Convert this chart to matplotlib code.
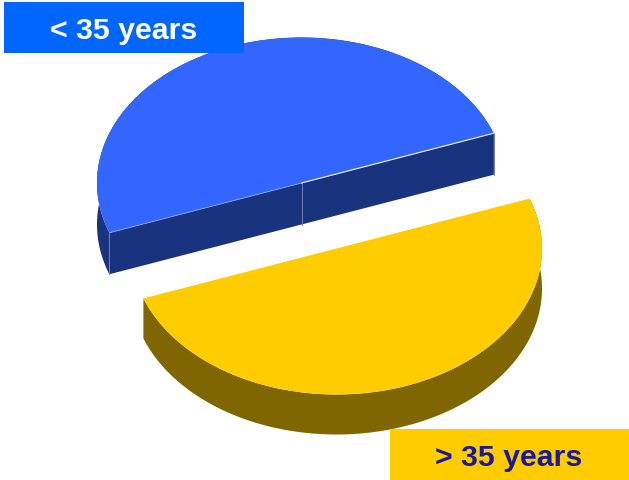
import numpy as np
import matplotlib
matplotlib.use("Agg")
import matplotlib.pyplot as plt
from matplotlib.patches import Wedge, Polygon, Rectangle
from matplotlib.transforms import Affine2D

plt.rcParams['font.family'] = ['Liberation Sans', 'DejaVu Sans']

labels = ['< 35 years', '> 35 years']
shares = [50, 50]

top_colors = ['#3366FF', '#FFCC00']
side_colors = ['#1A337F', '#806600']
box_colors = ['#0066FF', '#FFCC00']
text_colors = ['#FFFFFF', '#1A1A99']

W, H = 629, 481
fig = plt.figure(figsize=(W / 100, H / 100), dpi=100)
ax = fig.add_axes([0, 0, 1, 1])
ax.set_xlim(0, W)
ax.set_ylim(H, 0)
ax.axis('off')

centres = [(301.5, 184.0), (336.5, 249.5)]
radii = [(204.5, 145.5), (205.5, 146.0)]
depths = [41.5, 40.0]
start_angle = 20.0

theta1 = start_angle
for i, share in enumerate(shares):
    theta2 = theta1 + 360.0 * share / sum(shares)
    cx, cy = centres[i]
    rx, ry = radii[i]
    d = depths[i]
    t = np.radians(np.linspace(theta1, theta2, 240))
    ex, ey = cx + rx * np.cos(t), cy - ry * np.sin(t)

    # outer wall, extruded downward
    ax.add_patch(Polygon(np.r_[np.c_[ex, ey], np.c_[ex, ey + d][::-1]],
                         closed=True, fc=side_colors[i], ec='none', zorder=2))
    # cut face (blue slice faces the viewer)
    if i == 0:
        p1, p2 = (ex[0], ey[0]), (ex[-1], ey[-1])
        ax.add_patch(Polygon([p1, p2, (p2[0], p2[1] + d), (p1[0], p1[1] + d)],
                             closed=True, fc=side_colors[i], ec='none', zorder=3))
        for x, y in (p1, p2, (cx, cy)):
            ax.plot([x, x], [y, y + d], color='#6F84B8', lw=0.7, zorder=4)
    # top face
    ax.add_patch(Wedge((0, 0), 1, -theta2, -theta1, fc=top_colors[i], ec='none', zorder=5,
                       transform=Affine2D().scale(rx, ry).translate(cx, cy) + ax.transData))
    if i == 0:
        ax.plot([cx, ex[0]], [cy, ey[0]], color='#F2F5FF', lw=0.8, zorder=6)
        ax.plot([cx, ex[-1]], [cy, ey[-1]], color='#8FA8F0', lw=0.6, zorder=6)
    theta1 = theta2

boxes = [(4, 3, 240, 51), (390, 430, 239, 51)]
for i, (x, y, w, h) in enumerate(boxes):
    ax.add_patch(Rectangle((x, y), w, h, fc=box_colors[i], ec='none', zorder=7))
text_pos = [(124, 31), (509, 458)]
for i, (x, y) in enumerate(text_pos):
    ax.text(x, y, labels[i], color=text_colors[i], fontsize=21.8, fontweight='bold',
            ha='center', va='center', zorder=8)

fig.savefig('out.png', dpi=100, facecolor='white')
